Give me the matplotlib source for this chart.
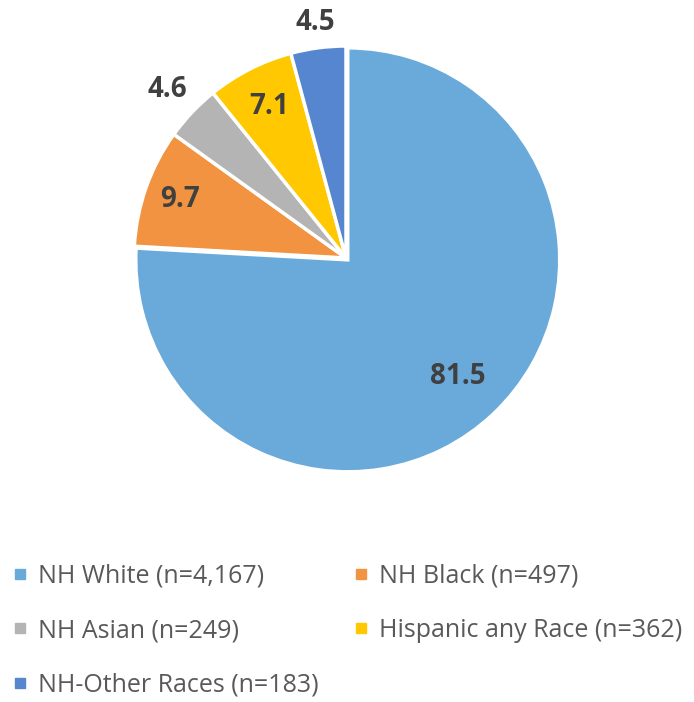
import numpy as np
import matplotlib
matplotlib.use("Agg")
from matplotlib import pyplot as plt
from matplotlib.lines import Line2D

groups = ["NH White", "NH Black", "NH Asian", "Hispanic any Race", "NH-Other Races"]
counts = ["4,167", "497", "249", "362", "183"]
values = [81.5, 9.7, 4.6, 7.1, 4.5]
colors = ["#6aaadb", "#f29341", "#b4b4b4", "#ffc800", "#5686d0"]
# how far out each value label sits (fraction of radius)
label_dist = [0.77, 0.83, 1.16, 0.80, 1.12]

plt.rcParams['font.family'] = ['Open Sans', 'DejaVu Sans']

fig = plt.figure(figsize=(6.94, 7.02), dpi=100)
ax = fig.add_axes([134/694, 232/702, 424/694, 424/702])

wedges, _ = ax.pie(values, colors=colors, startangle=90, counterclock=False,
                   explode=[0.012, 0, 0, 0, 0],
                   wedgeprops=dict(edgecolor='white', linewidth=2.5))
ax.set_xlim(-1, 1)
ax.set_ylim(-1, 1)
ax.set_aspect('equal')
ax.axis('off')

for w, v, d in zip(wedges, values, label_dist) :
    a = np.deg2rad((w.theta1 + w.theta2)/2)
    ax.text(d*np.cos(a), d*np.sin(a), f"{v}", ha='center', va='center',
            fontsize=20, fontweight='bold', color='#404040', clip_on=False)

handles = [Line2D([], [], marker='s', linestyle='', markersize=7.8, color=c) for c in colors]
labels = [f"{g} (n={n})" for g, n in zip(groups, counts)]
order = [0, 2, 4, 1, 3]
fig.legend([handles[i] for i in order], [labels[i] for i in order], ncol=2,
           loc='upper left', bbox_to_anchor=(0.004, 0.211), frameon=False,
           fontsize=18, labelcolor='#595959', handlelength=0.6, handletextpad=0.42,
           columnspacing=1.4, labelspacing=1.17, borderaxespad=0)

plt.savefig('out.png', dpi=100)
